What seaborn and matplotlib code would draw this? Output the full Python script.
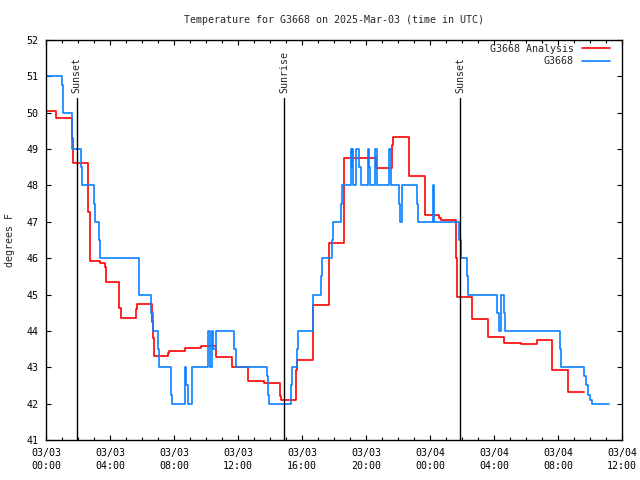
import numpy as np
import pandas as pd
import matplotlib
matplotlib.use("Agg")
import matplotlib.pyplot as plt
import matplotlib.dates as mdates
import seaborn as sns

# ---------------- data (hours since 2025-03-03 00:00 UTC) ----------------
red_hours = [0, 0.65, 1.6, 1.68, 2.65, 2.72, 3.38, 3.67, 3.73, 4.58, 4.69, 5.6, 5.7,
             6.6, 6.68, 6.72, 7.64, 7.7, 8.69, 9.69, 10.65, 11.6, 11.65, 12.62, 13.65,
             14.65, 14.7, 15.6, 15.68, 16.66, 17.66, 18.6, 18.65, 20.62, 21.6, 21.7,
             22.66, 23.68, 24.55, 24.67, 25.6, 25.67, 26.62, 27.63, 28.65, 29.69, 30.69,
             31.6, 32.6, 33.6]
red_vals = [50.06, 49.85, 49.3, 48.63, 47.28, 45.93, 45.88, 45.77, 45.34, 44.62, 44.35,
            44.6, 44.73, 44.25, 43.8, 43.31, 43.4, 43.46, 43.54, 43.58, 43.27, 43.1, 43.0,
            42.62, 42.56, 42.2, 42.1, 42.93, 43.2, 44.71, 46.41, 47.6, 48.75, 48.47, 49.11,
            49.32, 48.26, 47.19, 47.1, 47.05, 46.0, 44.92, 44.33, 43.83, 43.66, 43.64,
            43.74, 42.93, 42.32, 42.32]

blue_hours = [0, 0.98, 1.04, 1.08, 1.6, 1.65, 2.17, 2.22, 3.02, 3.08,
              3.33, 3.39, 5.79, 5.83, 6.58, 6.69, 7.02, 7.08, 7.79, 7.9,
              8.69, 8.78, 8.85, 9.14, 10.15, 10.27, 10.35, 10.45, 10.6, 11.77,
              11.85, 13.79, 13.9, 13.96, 15.3, 15.35, 15.67, 15.75, 16.67, 16.71,
              17.17, 17.23, 17.9, 17.96, 18.42, 18.48, 19.04, 19.1, 19.14, 19.21,
              19.37, 19.58, 19.67, 20.1, 20.21, 20.25, 20.56, 20.67, 21.46, 21.54,
              22.08, 22.15, 22.23, 23.17, 23.27, 24.17, 24.23, 25.83, 25.92, 26.33,
              26.39, 28.17, 28.3, 28.45, 28.6, 28.71, 32.13, 32.21, 33.64, 33.75,
              33.9, 34.0, 34.14, 35.19]
blue_vals = [51, 50.75, 50.27, 50, 49.5, 49, 48.5, 48, 47.5, 47,
             46.5, 46, 45.5, 45, 44.5, 44, 43.5, 43, 42.25, 42,
             43, 42.5, 42, 43, 44, 43, 44, 43.5, 44, 43.5,
             43, 42.75, 42.25, 42, 42.5, 43, 43.5, 44, 44.5, 45,
             45.5, 46, 46.5, 47, 47.5, 48, 49, 48.5, 49, 48,
             49, 48.5, 48, 49, 48.5, 48, 49, 48, 49, 48,
             47.5, 47, 48, 47.5, 47, 48, 47, 46.5, 46, 45.5,
             45, 44.5, 44, 45, 44.5, 44, 43.5, 43, 42.75, 42.5,
             42.25, 42.1, 42, 42]

event_hours = [1.92, 14.9, 25.9]
event_labels = ["Sunset", "Sunrise", "Sunset"]

series_names = ["G3668 Analysis", "G3668"]
title = "Temperature for G3668 on 2025-Mar-03 (time in UTC)"
ylabel = "degrees F"

# ---------------- plotting ----------------
sns.set_style("ticks")
plt.rcParams["font.family"] = ["DejaVu Sans Mono"]
FS = 7.2

start = pd.Timestamp("2025-03-03 00:00")


def to_time(h):
    return start + pd.to_timedelta(np.asarray(h, dtype=float), unit="h")


df_red = pd.DataFrame({"time": to_time(red_hours), "temp": red_vals})
df_blue = pd.DataFrame({"time": to_time(blue_hours), "temp": blue_vals})

fig = plt.figure(figsize=(6.4, 4.8), dpi=100)
ax = fig.add_axes([46 / 640, 40 / 480, 576 / 640, 400 / 480])

sns.lineplot(data=df_red, x="time", y="temp", ax=ax, color="#ff0000", lw=1.2,
             drawstyle="steps-post", label=series_names[0])
sns.lineplot(data=df_blue, x="time", y="temp", ax=ax, color="#0a80ff", lw=1.2,
             drawstyle="steps-post", label=series_names[1])

ax.set_xlim(start, start + pd.Timedelta(hours=36))
ax.set_ylim(41, 52)

line_top_frac = (440 - 98) / 400
text_y = 52 - 53 / (400 / 11)
for h, lab in zip(event_hours, event_labels):
    t = to_time([h])[0]
    ax.axvline(t, ymin=0, ymax=line_top_frac, color="black", lw=1.0)
    ax.text(t, text_y, lab, rotation=90, ha="center", va="bottom", fontsize=FS)

ax.xaxis.set_major_locator(mdates.HourLocator(byhour=range(0, 24, 4)))
ax.xaxis.set_minor_locator(mdates.HourLocator())
ax.xaxis.set_major_formatter(mdates.DateFormatter("%m/%d\n%H:%M"))
ax.set_yticks(np.arange(41, 53, 1))

ax.tick_params(which="both", direction="in", top=True, right=True, width=0.8,
               labelsize=FS, colors="black")
ax.tick_params(which="major", length=3.6)
ax.tick_params(which="minor", length=2.0)
ax.tick_params(axis="x", pad=5.5)
ax.tick_params(axis="y", pad=5.5)

for s in ax.spines.values():
    s.set_color("black")
    s.set_linewidth(1.0)

ax.set_xlabel("")
ax.set_ylabel(ylabel, fontsize=FS)
ax.yaxis.set_label_coords(-0.054, 0.5)

fig.text(334 / 640, 1 - 20 / 480, title, ha="center", va="center", fontsize=FS)

leg = ax.legend(loc="upper right", bbox_to_anchor=(0.979, 0.99), frameon=False,
                markerfirst=False, handlelength=2.8, handletextpad=0.8,
                labelspacing=0.25, borderaxespad=0, borderpad=0, fontsize=FS)

fig.canvas.draw()
for t in ax.get_xticklabels():
    t.set_linespacing(1.4)

fig.savefig("out.png", dpi=100, facecolor="white")
